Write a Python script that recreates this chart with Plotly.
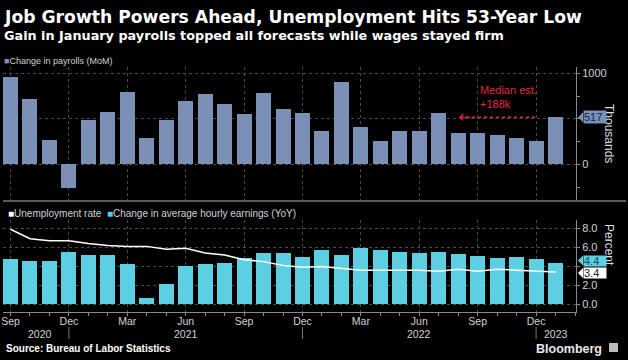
import plotly.graph_objects as go

# ---------------- data ----------------
months = ["Sep 2020", "Oct 2020", "Nov 2020", "Dec 2020",
          "Jan 2021", "Feb 2021", "Mar 2021", "Apr 2021", "May 2021", "Jun 2021",
          "Jul 2021", "Aug 2021", "Sep 2021", "Oct 2021", "Nov 2021", "Dec 2021",
          "Jan 2022", "Feb 2022", "Mar 2022", "Apr 2022", "May 2022", "Jun 2022",
          "Jul 2022", "Aug 2022", "Sep 2022", "Oct 2022", "Nov 2022", "Dec 2022",
          "Jan 2023"]
payrolls = [964, 716, 265, -265, 491, 578, 789, 287, 484, 691, 771, 665, 556, 782,
            611, 566, 365, 908, 410, 256, 363, 366, 564, 348, 348, 319, 286, 260, 517]
earnings = [4.8, 4.6, 4.6, 5.5, 5.2, 5.2, 4.3, 0.7, 2.2, 4.0, 4.3, 4.4, 4.9, 5.4,
            5.4, 5.0, 5.7, 5.2, 5.9, 5.7, 5.5, 5.4, 5.5, 5.3, 5.1, 4.9, 5.0, 4.8, 4.4]
unemployment = [7.9, 6.9, 6.7, 6.7, 6.4, 6.2, 6.1, 6.1, 5.8, 5.9, 5.4, 5.2, 4.7, 4.5,
                4.1, 3.9, 4.0, 3.8, 3.6, 3.6, 3.6, 3.6, 3.5, 3.7, 3.5, 3.7, 3.6, 3.5, 3.4]
median_est = 188
quarter_labels = ["Sep", "Dec", "Mar", "Jun", "Sep", "Dec", "Mar", "Jun", "Sep", "Dec"]
year_labels = ["2020", "2021", "2022", "2023"]
year_label_pos = [1.5, 9, 21, 28]
year_breaks = [3, 15, 27]
top_ticks = [0, 500, 1000]
top_ticktext = ["0", "", "1000"]
bot_ticks = [0, 2, 4, 6, 8]
bot_ticktext = ["0.0", "2.0", "", "6.0", "8.0"]

# ---------------- style ----------------
W, H = 628, 360
ML, MR = 3, 52
PW = W - ML - MR
FONT = "Liberation Sans"
TFONT = "DejaVu Sans"
C_PAY = "#7a90b7"
C_EARN = "#5ccfe2"
C_RED = "#e0283f"
C_GRID = "#4a4a4a"
C_AXIS = "#8a8a8a"
C_TXT = "#d2d2d2"


def px_x(p):
    return (p - ML) / PW


def px_y(p):
    return (H - p) / H


idx = list(range(len(months)))
qvals = idx[::3]

fig = go.Figure()
fig.add_trace(go.Bar(x=idx, y=payrolls, width=0.77, marker=dict(color=C_PAY, line_width=0),
                     name="Change in payrolls (MoM)", xaxis="x", yaxis="y",
                     hovertext=months))
fig.add_trace(go.Bar(x=idx, y=earnings, width=0.77, marker=dict(color=C_EARN, line_width=0),
                     name="Change in average hourly earnings (YoY)", xaxis="x2", yaxis="y2",
                     hovertext=months))
fig.add_trace(go.Scatter(x=idx, y=unemployment, mode="lines",
                         line=dict(color="#ffffff", width=1.5),
                         name="Unemployment rate", xaxis="x2", yaxis="y2",
                         hovertext=months))

xr = [-0.385, len(months) - 1 + 1.05]
common_x = dict(range=xr, tickvals=qvals, showgrid=True, gridcolor=C_GRID, griddash="dot",
                gridwidth=1, zeroline=False, fixedrange=True)

fig.update_layout(
    width=W, height=H,
    margin=dict(l=ML, r=MR, t=0, b=0),
    paper_bgcolor="#000000", plot_bgcolor="#000000",
    showlegend=False, bargap=0,
    font=dict(family=FONT, color=C_TXT, size=11),
    xaxis=dict(**common_x, anchor="y", showticklabels=False, ticks="", showline=False),
    yaxis=dict(domain=[px_y(201), px_y(67)], range=[-403, 1069], side="right",
               tickvals=top_ticks, ticktext=top_ticktext, showgrid=True, gridcolor=C_GRID,
               griddash="dot", zeroline=False, showline=True, linecolor=C_AXIS, linewidth=1,
               ticks="outside", ticklen=3, tickcolor=C_AXIS, tickfont=dict(size=11, color=C_TXT),
               minor=dict(dtick=250, ticks="outside", ticklen=3, tickcolor=C_AXIS, showgrid=False),
               automargin=False, anchor="x"),
    xaxis2=dict(**common_x, anchor="y2", ticktext=quarter_labels, showticklabels=True,
                ticks="outside", ticklen=3, tickcolor=C_AXIS, showline=True, linecolor=C_AXIS,
                linewidth=1, tickfont=dict(size=10.5, color=C_TXT), ticklabelstandoff=-4,
                minor=dict(dtick=1, tick0=0, ticks="outside", ticklen=3, tickcolor=C_AXIS,
                           showgrid=False),
                automargin=False),
    yaxis2=dict(domain=[px_y(312), px_y(220)], range=[-0.79, 8.87], side="right",
                tickvals=bot_ticks, ticktext=bot_ticktext, showgrid=True, gridcolor=C_GRID,
                griddash="dot", zeroline=False, showline=True, linecolor=C_AXIS, linewidth=1,
                ticks="outside", ticklen=3, tickcolor=C_AXIS, tickfont=dict(size=11, color=C_TXT),
                automargin=False, anchor="x2"),
)

ann = []
# title & subtitle
ann.append(dict(text="<b>Job Growth Powers Ahead, Unemployment Hits 53-Year Low</b>",
                xref="paper", yref="paper", x=px_x(2), y=px_y(17), xanchor="left",
                yanchor="middle", showarrow=False,
                font=dict(family=TFONT, size=17.2, color="#ffffff")))
ann.append(dict(text="<b>Gain in January payrolls topped all forecasts while wages stayed firm</b>",
                xref="paper", yref="paper", x=px_x(2), y=px_y(36), xanchor="left",
                yanchor="middle", showarrow=False,
                font=dict(family=TFONT, size=12.8, color="#ffffff")))
# legends
ann.append(dict(text=f"<span style='color:{C_PAY}'>■</span>Change in payrolls (MoM)",
                xref="paper", yref="paper", x=px_x(2), y=px_y(61), xanchor="left",
                yanchor="middle", showarrow=False, font=dict(size=9, color=C_TXT)))
ann.append(dict(text=f"<span style='color:#ffffff'>■</span>Unemployment rate  "
                     f"<span style='color:{C_EARN}'>■</span>Change in average hourly earnings (YoY)",
                xref="paper", yref="paper", x=px_x(6), y=px_y(213), xanchor="left",
                yanchor="middle", showarrow=False, font=dict(size=10, color=C_TXT)))
# axis titles
ann.append(dict(text="Thousands", xref="paper", yref="paper", x=px_x(618), y=px_y(133),
                textangle=90, showarrow=False, font=dict(size=12, color="#dddddd")))
ann.append(dict(text="Percent", xref="paper", yref="paper", x=px_x(618), y=px_y(268),
                textangle=90, showarrow=False, font=dict(size=12, color="#dddddd")))
# year labels
for lab, pos in zip(year_labels, year_label_pos):
    ann.append(dict(text=lab, xref="x2", yref="paper", x=pos, y=px_y(334), showarrow=False,
                    xanchor="center", yanchor="middle", font=dict(size=10.5, color=C_TXT)))
# source & brand
ann.append(dict(text="<b>Source: Bureau of Labor Statistics</b>", xref="paper", yref="paper",
                x=px_x(4), y=px_y(348), xanchor="left", yanchor="middle", showarrow=False,
                font=dict(size=10, color="#ffffff")))
ann.append(dict(text="<b>Bloomberg</b>", xref="paper", yref="paper", x=px_x(604), y=px_y(348.5),
                xanchor="right", yanchor="middle", showarrow=False,
                font=dict(size=12.5, color="#e8e8e8")))
# median estimate note
ann.append(dict(text="Median est.<br>+188k", xref="x", yref="y", x=24.0, y=900,
                xanchor="left", yanchor="top", align="left", showarrow=False,
                font=dict(size=11, color=C_RED)))
ann.append(dict(text="", xref="x", yref="y", x=23.05, y=payrolls[-1], ax=23.7,
                ay=payrolls[-1], axref="x", ayref="y", showarrow=True, arrowhead=4,
                arrowsize=1, arrowwidth=1.2, arrowcolor=C_RED))
# value badges
last_u = unemployment[-1]
last_e = earnings[-1]
last_p = payrolls[-1]
ann.append(dict(text=f"{last_p}", xref="paper", yref="y", x=px_x(583), y=last_p,
                xanchor="left", yanchor="middle", showarrow=False, bgcolor=C_PAY,
                width=22, height=12, borderpad=0, align="left",
                font=dict(size=11, color="#12284a")))
ann.append(dict(text=f"{last_e:.1f}", xref="paper", yref="y2", x=px_x(583), y=last_e,
                xanchor="left", yanchor="middle", showarrow=False, bgcolor=C_EARN,
                width=22, height=10, borderpad=0, align="left", yshift=2,
                font=dict(size=11, color="#124a55")))
ann.append(dict(text=f"{last_u:.1f}", xref="paper", yref="y2", x=px_x(583), y=last_u,
                xanchor="left", yanchor="middle", showarrow=False, bgcolor="#ffffff",
                width=22, height=10, borderpad=0, align="left", yshift=-1,
                font=dict(size=11, color="#222222")))
fig.update_layout(annotations=ann)

shapes = []
# separator between panels
shapes.append(dict(type="line", xref="paper", yref="paper", x0=0, x1=px_x(626),
                   y0=px_y(201), y1=px_y(201), line=dict(color="#5a5a5a", width=2)))
# year breaks
for b in year_breaks:
    shapes.append(dict(type="line", xref="x2", yref="paper", x0=b, x1=b, y0=px_y(327),
                       y1=px_y(339), line=dict(color="#777777", width=1)))
# dotted arrow body
shapes.append(dict(type="line", xref="x", yref="y", x0=23.1, x1=27.0, y0=last_p, y1=last_p,
                   line=dict(color=C_RED, width=1.5, dash="dot")))
# badge pointers
for yref, val, col, sh in [("y", last_p, C_PAY, 0), ("y2", last_e, C_EARN, 2),
                           ("y2", last_u, "#ffffff", -1)]:
    shapes.append(dict(type="path", xref="paper", yref=yref, xsizemode="pixel",
                       ysizemode="pixel", xanchor=px_x(576), yanchor=val,
                       path=f"M 2,{sh} L 7,{sh + 5} L 7,{sh - 5} Z", fillcolor=col,
                       line=dict(width=0)))
# logo box
shapes.append(dict(type="rect", xref="paper", yref="paper", x0=px_x(609), x1=px_x(618),
                   y0=px_y(352), y1=px_y(343), fillcolor="#bbbbbb", line=dict(width=0)))
fig.update_layout(shapes=shapes)

fig.write_html("out.html", config={"displayModeBar": False},
               post_script="document.body.style.margin='0';document.body.style.padding='0';")
